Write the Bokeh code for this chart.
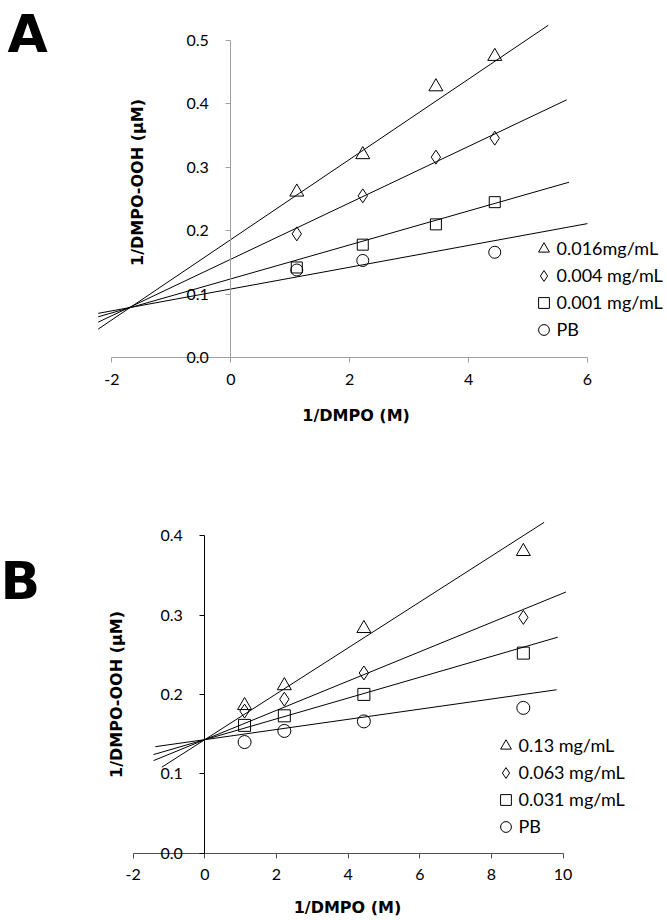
import math
from bokeh.plotting import figure
from bokeh.layouts import column
from bokeh.models import Label, FixedTicker, NumeralTickFormatter
from bokeh.embed import file_html
from bokeh.resources import INLINE

# ---------------- Panel A data ----------------
a_x = [1.11, 2.22, 3.45, 4.44]
a_tri = [0.261, 0.320, 0.427, 0.475]
a_dia = [0.195, 0.255, 0.316, 0.346]
a_sq = [0.142, 0.178, 0.210, 0.245]
a_pb_x = [1.11, 2.22, 4.44]
a_pb = [0.138, 0.153, 0.166]
a_labels = ["0.016mg/mL", "0.004 mg/mL", "0.001 mg/mL", "PB"]
a_line_intercept = [0.186, 0.155, 0.124, 0.108]
a_line_slope = [0.0633, 0.0445, 0.0268, 0.0172]
a_line_x0 = [-2.23, -2.23, -2.23, -2.23]
a_line_x1 = [5.34, 5.65, 5.69, 6.0]
a_xticks = [-2, 0, 2, 4, 6]
a_yticks = [0.0, 0.1, 0.2, 0.3, 0.4, 0.5]

# ---------------- Panel B data ----------------
b_x = [1.11, 2.22, 4.44, 8.89]
b_tri = [0.186, 0.211, 0.283, 0.380]
b_dia = [0.179, 0.194, 0.227, 0.297]
b_sq = [0.161, 0.173, 0.200, 0.252]
b_pb = [0.140, 0.154, 0.166, 0.183]
b_labels = ["0.13 mg/mL", "0.063 mg/mL", "0.031 mg/mL", "PB"]
b_line_intercept = [0.143, 0.143, 0.143, 0.143]
b_line_slope = [0.0289, 0.01845, 0.0131, 0.0064]
b_line_x0 = [-1.20, -1.43, -1.43, -1.38]
b_line_x1 = [9.47, 10.08, 9.85, 9.82]
b_xticks = [-2, 0, 2, 4, 6, 8, 10]
b_yticks = [0.0, 0.1, 0.2, 0.3, 0.4]

X_TITLE = "1/DMPO (M)"
Y_TITLE = "1/DMPO-OOH (\u00b5M)"

FIG_W = 667
TICK_FONT = "Lato"
TITLE_FONT = "DejaVu Sans"


def make_panel(letter, fig_h, xs_list, ys_list, labels, intercepts, slopes, x0s, x1s,
               xticks, yticks, x_origin, x_ppu, y_origin, y_ppu,
               xbounds, ybounds, axis_colors, legend_loc, legend_g, legend_sp,
               xtitle_pos, ytitle_pos, letter_pos, sizes):
    x_start = (0 - x_origin) / x_ppu
    x_end = (FIG_W - x_origin) / x_ppu
    y_end = y_origin / y_ppu
    y_start = (y_origin - fig_h) / y_ppu
    p = figure(width=FIG_W, height=fig_h, x_range=(x_start, x_end),
               y_range=(y_start, y_end), output_backend="svg",
               toolbar_location=None, title=None,
               min_border_left=0, min_border_right=0,
               min_border_top=0, min_border_bottom=0)
    p.outline_line_color = None
    p.grid.visible = False
    p.background_fill_color = "white"
    p.border_fill_color = "white"

    # trend lines
    y0s = [b + m * x for b, m, x in zip(intercepts, slopes, x0s)]
    y1s = [b + m * x for b, m, x in zip(intercepts, slopes, x1s)]
    p.segment(x0=x0s, y0=y0s, x1=x1s, y1=y1s, line_color="black", line_width=1)

    markers = ["triangle", "diamond", "square", "circle"]
    for (xs, ys), mk, lab, sz in zip(zip(xs_list, ys_list), markers, labels, sizes):
        p.scatter(xs, ys, marker=mk, size=sz, fill_color=None,
                  line_color="black", line_width=1, legend_label=lab)

    # axes crossing at the origin
    xa = p.xaxis[0]
    ya = p.yaxis[0]
    xa.fixed_location = 0
    ya.fixed_location = 0
    xa.bounds = xbounds
    ya.bounds = ybounds
    xa.ticker = FixedTicker(ticks=xticks)
    ya.ticker = FixedTicker(ticks=yticks)
    xa.major_label_overrides = {t: str(t) for t in xticks}
    ya.formatter = NumeralTickFormatter(format="0.0")
    for ax, col in zip((xa, ya), axis_colors):
        ax.axis_line_color = col
        ax.major_tick_line_color = col
        ax.minor_tick_line_color = None
        ax.major_tick_in = 0
        ax.major_tick_out = 5
        ax.major_label_text_font = TICK_FONT
        ax.major_label_text_font_size = "16px"
        ax.major_label_text_color = "black"
    xa.major_label_standoff = 11
    ya.major_label_standoff = 17

    lg = p.legend[0]
    lg.location = legend_loc
    lg.padding = 0
    lg.margin = 0
    lg.spacing = legend_sp
    lg.border_line_color = None
    lg.background_fill_alpha = 0
    lg.glyph_width = legend_g
    lg.glyph_height = legend_g
    lg.label_standoff = 0
    lg.label_text_font = TICK_FONT
    lg.label_text_font_size = "18px"
    lg.label_text_color = "black"

    p.add_layout(Label(x=xtitle_pos[0], y=xtitle_pos[1], x_units="screen", y_units="screen",
                       text=X_TITLE, text_font=TITLE_FONT, text_font_style="bold",
                       text_font_size="16px", text_align="center", text_baseline="middle",
                       text_color="black"))
    p.add_layout(Label(x=ytitle_pos[0], y=ytitle_pos[1], x_units="screen", y_units="screen",
                       text=Y_TITLE, text_font=TITLE_FONT, text_font_style="bold",
                       text_font_size="16px", text_align="center", text_baseline="middle",
                       angle=math.pi / 2, text_color="black"))
    p.add_layout(Label(x=letter_pos[0], y=letter_pos[1], x_units="screen", y_units="screen",
                       text=letter, text_font=TITLE_FONT, text_font_style="bold",
                       text_font_size="52px", text_align="left", text_baseline="alphabetic",
                       text_color="black"))
    return p


pA = make_panel("A", 460, [a_x, a_x, a_x, a_pb_x], [a_tri, a_dia, a_sq, a_pb], a_labels,
                a_line_intercept, a_line_slope, a_line_x0, a_line_x1,
                a_xticks, a_yticks,
                x_origin=230.3, x_ppu=59.45, y_origin=357.0, y_ppu=634.0,
                xbounds=(-2, 6), ybounds=(0, 0.5), axis_colors=("#a0a0a0", "#a0a0a0"),
                legend_loc=(529.5, 117.5), legend_g=27, legend_sp=-4,
                xtitle_pos=(355.6, 45), ytitle_pos=(137, 278), letter_pos=(7, 427),
                sizes=[14, 14, 11, 12])

pB = make_panel("B", 458, [b_x, b_x, b_x, b_x], [b_tri, b_dia, b_sq, b_pb], b_labels,
                b_line_intercept, b_line_slope, b_line_x0, b_line_x1,
                b_xticks, b_yticks,
                x_origin=204.3, x_ppu=35.83, y_origin=392.7, y_ppu=794.0,
                xbounds=(-2, 10), ybounds=(0, 0.4), axis_colors=("#505050", "#000000"),
                legend_loc=(491.5, 78.5), legend_g=27, legend_sp=0,
                xtitle_pos=(347, 11), ytitle_pos=(115.5, 224), letter_pos=(0, 338),
                sizes=[14, 14, 12, 13])

layout = column(pA, pB, spacing=0)
open("out.html", "w").write(file_html(layout, INLINE))
